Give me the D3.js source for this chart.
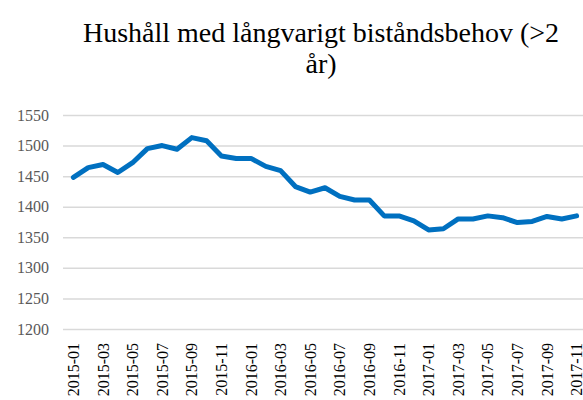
<!DOCTYPE html>
<html>
<head>
<meta charset="utf-8">
<script src="https://cdn.jsdelivr.net/npm/d3@7"></script>
<style>
  body { margin: 0; background: #fff; }
</style>
</head>
<body>
<div id="chart"></div>
<script>
const months = [
  "2015-01","2015-02","2015-03","2015-04","2015-05","2015-06","2015-07","2015-08","2015-09","2015-10","2015-11","2015-12",
  "2016-01","2016-02","2016-03","2016-04","2016-05","2016-06","2016-07","2016-08","2016-09","2016-10","2016-11","2016-12",
  "2017-01","2017-02","2017-03","2017-04","2017-05","2017-06","2017-07","2017-08","2017-09","2017-10","2017-11"
];
const households = [
  1448, 1464, 1469, 1456, 1472, 1495, 1500, 1494, 1513, 1508, 1483, 1479,
  1479, 1466, 1459, 1433, 1424, 1431, 1417, 1411, 1411, 1385, 1385, 1377,
  1362, 1364, 1380, 1380, 1385, 1382, 1374, 1376, 1384, 1380, 1385
];
const yTicks = [1200, 1250, 1300, 1350, 1400, 1450, 1500, 1550];
const titleLines = ["Hushåll med långvarigt biståndsbehov (>2", "år)"];

const width = 583, height = 400;
const fontFamily = "'Liberation Serif', serif";

const svg = d3.select("#chart")
  .append("svg")
  .attr("width", width)
  .attr("height", height);

const x = d3.scaleBand().domain(months).range([66, 584]);
const y = d3.scaleLinear().domain([1200, 1550]).range([329, 115]);

// title
svg.append("text")
  .attr("x", 321)
  .attr("y", 42)
  .attr("text-anchor", "middle")
  .style("font-family", fontFamily)
  .style("font-size", "28px")
  .attr("fill", "#000")
  .selectAll("tspan")
  .data(titleLines)
  .enter()
  .append("tspan")
    .attr("x", 321)
    .attr("dy", (d, i) => i == 0 ? 0 : 31)
    .text(d => d);

// y axis with gridlines
const yAxis = d3.axisLeft(y)
  .tickValues(yTicks)
  .tickFormat(d3.format("d"))
  .tickSize(-(584 - 63))
  .tickPadding(14);

const yg = svg.append("g")
  .attr("transform", "translate(63,0)")
  .call(yAxis)
  .attr("font-family", fontFamily)
  .attr("font-size", 16);
yg.select(".domain").remove();
yg.selectAll(".tick line").attr("stroke", "#d9d9d9").attr("stroke-width", 1.5);
yg.selectAll(".tick text").attr("fill", "#595959");

// x axis, every second month labelled
const xAxis = d3.axisBottom(x)
  .tickValues(months.filter((d, i) => i % 2 == 0))
  .tickSize(0)
  .tickPadding(0);

const xg = svg.append("g")
  .attr("transform", "translate(0,329)")
  .call(xAxis)
  .attr("font-family", fontFamily)
  .attr("font-size", 16);
xg.select(".domain").remove();
xg.selectAll(".tick text")
  .attr("fill", "#000")
  .attr("transform", "rotate(-90)")
  .attr("text-anchor", "end")
  .attr("x", -14)
  .attr("y", 0)
  .attr("dy", "0.35em");

// line
const line = d3.line()
  .x((d, i) => x(months[i]) + x.bandwidth() / 2)
  .y(d => y(d));

svg.append("path")
  .datum(households)
  .attr("fill", "none")
  .attr("stroke", "#0070c0")
  .attr("stroke-width", 5)
  .attr("stroke-linejoin", "round")
  .attr("stroke-linecap", "round")
  .attr("d", line);
</script>
</body>
</html>
